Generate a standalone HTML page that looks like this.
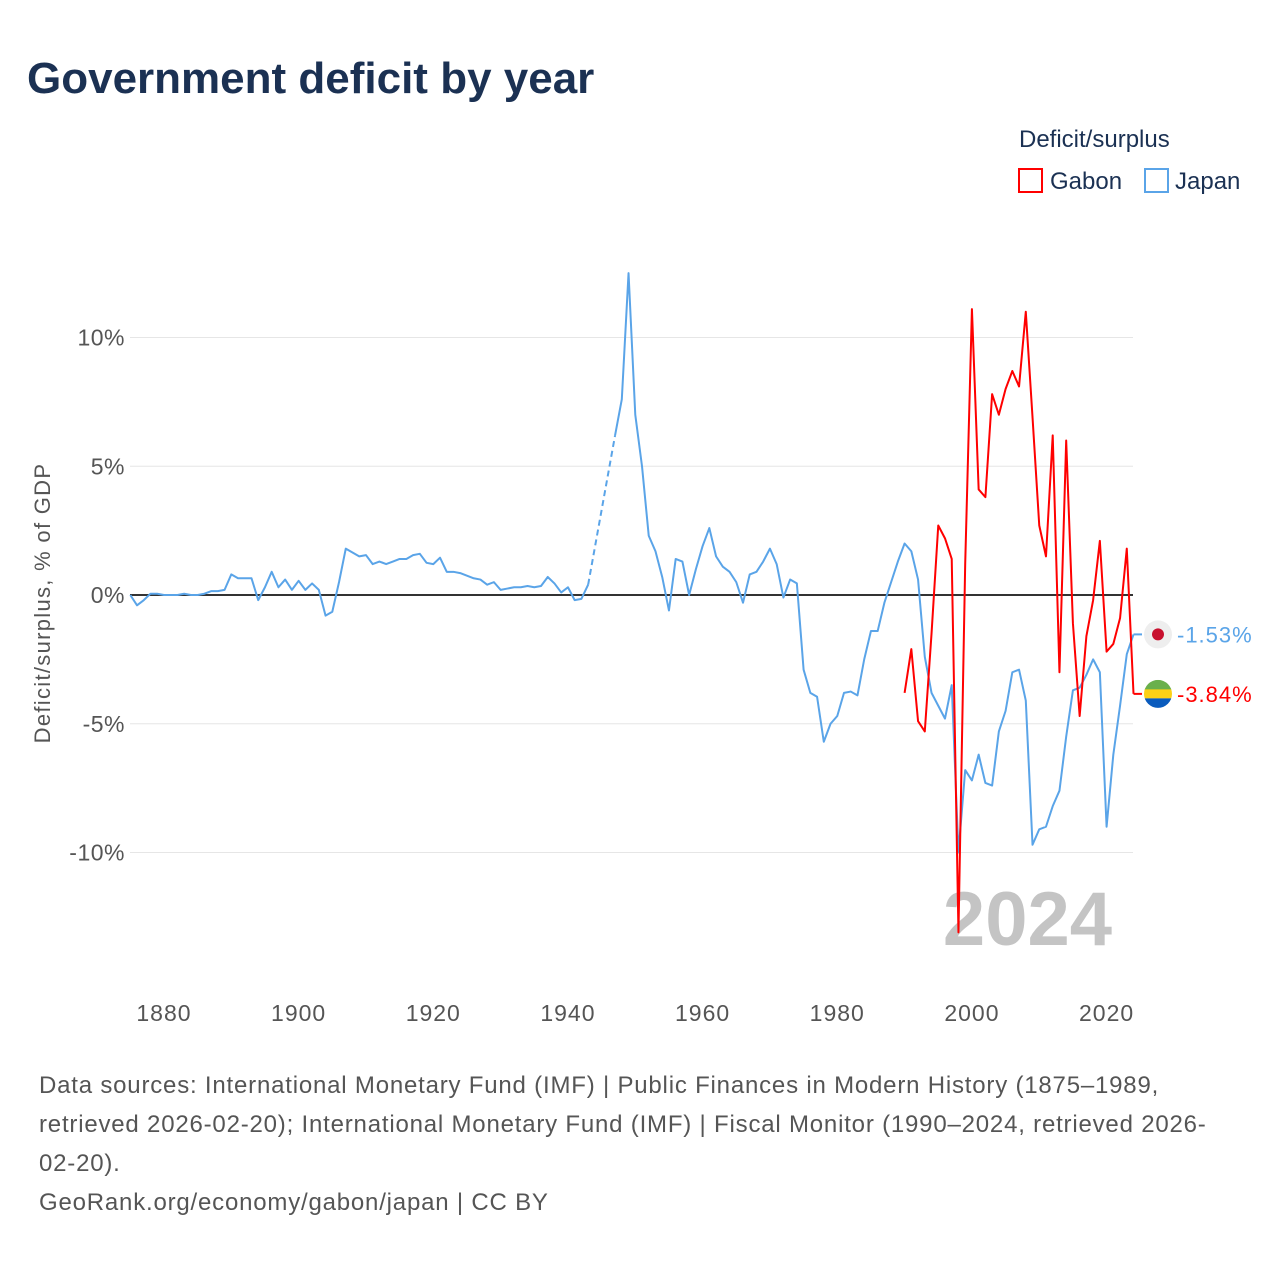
<!DOCTYPE html>
<html><head><meta charset="utf-8">
<style>
body{margin:0;width:1280px;height:1280px;background:#fff;font-family:"Liberation Sans",sans-serif;overflow:hidden}
svg{position:absolute;left:0;top:0}
</style></head>
<body>
<svg id="c" width="1280" height="1280">
<text x="27" y="93" font-size="44" font-weight="bold" fill="#1b3153">Government deficit by year</text>
<text x="1019" y="147" font-size="24" fill="#1b3153">Deficit/surplus</text>
<g><rect x="1019" y="169" width="23" height="23" fill="none" stroke="#f00" stroke-width="2"/><text x="1050" y="189" font-size="24" fill="#1b3153">Gabon</text></g>
<g><rect x="1145" y="169" width="23" height="23" fill="none" stroke="#5aa4e8" stroke-width="2"/><text x="1175" y="189" font-size="24" fill="#1b3153">Japan</text></g>
<text transform="translate(50,603) rotate(-90)" text-anchor="middle" font-size="22" letter-spacing="1.3" fill="#555">Deficit/surplus, % of GDP</text>
<g id="grid"></g>
<text x="1112" y="945" text-anchor="end" font-size="76" font-weight="bold" fill="#c4c4c4">2024</text>
<g id="series"></g>
<g font-size="24" letter-spacing="0.8" fill="#555">
<text x="39" y="1093">Data sources: International Monetary Fund (IMF) | Public Finances in Modern History (1875–1989,</text>
<text x="39" y="1132">retrieved 2026-02-20); International Monetary Fund (IMF) | Fiscal Monitor (1990–2024, retrieved 2026-</text>
<text x="39" y="1171">02-20).</text>
<text x="39" y="1210">GeoRank.org/economy/gabon/japan | CC BY</text>
</g>
</svg>
<script>
const yTicks=[10,5,0,-5,-10];
const xTicks=[1880,1900,1920,1940,1960,1980,2000,2020];
const japanStart=1875;
const japanValues=[0,-0.4,-0.2,0.05,0.05,0,0,0,0.05,0,0,0.05,0.15,0.15,0.2,0.8,0.65,0.65,0.65,-0.2,0.3,0.9,0.3,0.6,0.2,0.55,0.2,0.45,0.2,-0.8,-0.65,0.5,1.8,1.65,1.5,1.55,1.2,1.3,1.2,1.3,1.4,1.4,1.55,1.6,1.25,1.2,1.45,0.9,0.9,0.85,0.75,0.65,0.6,0.4,0.5,0.2,0.25,0.3,0.3,0.35,0.3,0.35,0.7,0.45,0.1,0.3,-0.2,-0.15,0.4,null,null,null,6.2,7.6,12.5,7.0,5.0,2.3,1.7,0.7,-0.6,1.4,1.3,0,1.0,1.9,2.6,1.5,1.1,0.9,0.5,-0.3,0.8,0.9,1.3,1.8,1.2,-0.1,0.6,0.45,-2.9,-3.8,-3.95,-5.7,-5.0,-4.7,-3.8,-3.75,-3.9,-2.5,-1.4,-1.4,-0.3,0.5,1.3,2.0,1.7,0.6,-2.4,-3.8,-4.3,-4.8,-3.5,-10.0,-6.8,-7.2,-6.2,-7.3,-7.4,-5.3,-4.5,-3.0,-2.9,-4.1,-9.7,-9.1,-9.0,-8.2,-7.6,-5.5,-3.7,-3.6,-3.1,-2.5,-3.0,-9.0,-6.2,-4.3,-2.3,-1.53];
const gabonStart=1990;
const gabonValues=[-3.8,-2.1,-4.9,-5.3,-1.5,2.7,2.2,1.4,-13.1,1.2,11.1,4.1,3.8,7.8,7.0,8.0,8.7,8.1,11.0,6.9,2.7,1.5,6.2,-3.0,6.0,-1.1,-4.7,-1.6,-0.2,2.1,-2.2,-1.9,-0.9,1.8,-3.84];
const X=y=>130.3+(y-1875)*6.733;
const Y=v=>595-v*25.75;
const NS="http://www.w3.org/2000/svg";
function mk(t,a,p){const e=document.createElementNS(NS,t);for(const k in a)e.setAttribute(k,a[k]);p.appendChild(e);return e;}
const grid=document.getElementById('grid'),ser=document.getElementById('series');
yTicks.forEach(t=>{
 const l=mk('line',{x1:130,x2:1133,y1:Y(t),y2:Y(t),stroke:t===0?'#333':'#e6e6e6','stroke-width':t===0?2:1},grid);
 
 
 const tx=mk('text',{x:125,y:Y(t)+8,'text-anchor':'end','font-size':23,'letter-spacing':0.5,fill:'#555'},grid);
 tx.textContent=t+'%';
 
 
});
xTicks.forEach(t=>{
 const tx=mk('text',{x:X(t),y:1021,'text-anchor':'middle','font-size':23,'letter-spacing':1,fill:'#555'},grid);
 tx.textContent=t;
 
 
});
function draw(start,vals,color,name){
 let segs=[],cur=[],last=null,dashes=[];
 vals.forEach((v,i)=>{
  const yr=start+i;
  if(v==null){if(cur.length){segs.push(cur);cur=[];}return;}
  if(!cur.length&&last)dashes.push([last,[yr,v]]);
  cur.push([yr,v]);last=[yr,v];
 });
 if(cur.length)segs.push(cur);
 segs.forEach(s=>{
  const p=mk('polyline',{points:s.map(q=>X(q[0])+','+Y(q[1])).join(' '),fill:'none',stroke:color,'stroke-width':2,'stroke-linejoin':'round'},ser);
  
  
 });
 dashes.forEach(d=>{
  const p=mk('line',{x1:X(d[0][0]),y1:Y(d[0][1]),x2:X(d[1][0]),y2:Y(d[1][1]),stroke:color,'stroke-width':2,'stroke-dasharray':'6,4'},ser);
  
  
 });
 const lv=vals[vals.length-1];
 const e=mk('line',{x1:X(start+vals.length-1),y1:Y(lv),x2:1142,y2:Y(lv),stroke:color,'stroke-width':2},ser);
 
 
 return lv;
}
const jl=draw(japanStart,japanValues,'#5aa4e8','japan');
const gl=draw(gabonStart,gabonValues,'#f00','gabon');
const jf=mk('g',{},ser);


mk('circle',{cx:1158,cy:Y(jl),r:14,fill:'#eee'},jf);
mk('circle',{cx:1158,cy:Y(jl),r:6,fill:'#c8102e'},jf);
const gf=mk('g',{},ser);


const gy=Y(gl);
mk('clipPath',{id:'gc'},gf);
mk('circle',{cx:1158,cy:gy,r:14},gf.lastChild);
const gg=mk('g',{'clip-path':'url(#gc)'},gf);
mk('rect',{x:1144,y:gy-14,width:28,height:10,fill:'#6ab04c'},gg);
mk('rect',{x:1144,y:gy-4.5,width:28,height:9,fill:'#fcd116'},gg);
mk('rect',{x:1144,y:gy+4.5,width:28,height:10,fill:'#0a5bbd'},gg);
[[jl,'#5aa4e8','japan'],[gl,'#f00','gabon']].forEach(a=>{
 const t=mk('text',{x:1177,y:Y(a[0])+8,'font-size':22,'letter-spacing':1,fill:a[1]},ser);
 t.textContent=a[0].toFixed(2)+'%';
 
 
});
</script>
</body></html>
